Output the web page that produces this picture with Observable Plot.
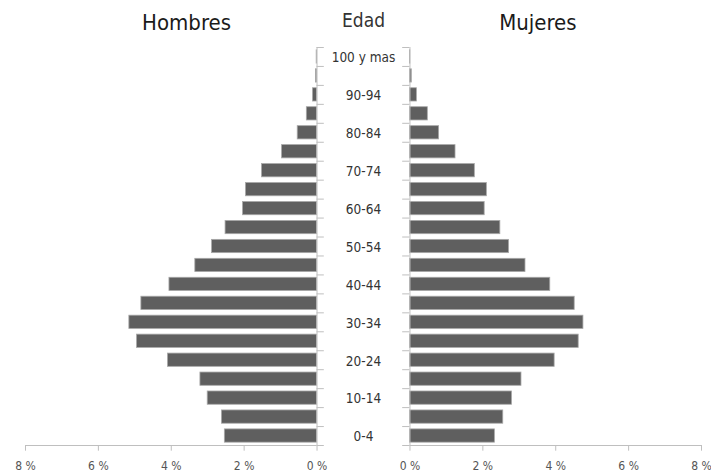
<!DOCTYPE html>
<html>
<head>
<meta charset="utf-8">
<script src="https://cdn.jsdelivr.net/npm/d3@7"></script>
<script src="https://cdn.jsdelivr.net/npm/@observablehq/plot@0.6"></script>
<style>
  html, body { margin: 0; padding: 0; background: #fff; }
  #chart { width: 711px; height: 475px; }
</style>
</head>
<body>
<div id="chart"></div>
<script>
// Age groups (bottom to top)
const ages = ["0-4","5-9","10-14","15-19","20-24","25-29","30-34","35-39","40-44","45-49",
              "50-54","55-59","60-64","65-69","70-74","75-79","80-84","85-89","90-94","95-99","100 y mas"];
// Percentage of population
const hombres = [2.53, 2.61, 3.00, 3.20, 4.09, 4.94, 5.15, 4.82, 4.05, 3.34,
                 2.88, 2.51, 2.03, 1.95, 1.51, 0.96, 0.53, 0.28, 0.11, 0.03, 0.01];
const mujeres = [2.33, 2.56, 2.80, 3.06, 3.97, 4.63, 4.76, 4.52, 3.85, 3.17,
                 2.72, 2.48, 2.05, 2.11, 1.78, 1.25, 0.80, 0.49, 0.19, 0.05, 0.01];
const xTicks = [0, 2, 4, 6, 8];
const titles = ["Hombres", "Edad", "Mujeres"];

const rows = ages.map((age, i) => ({age, i, h: hombres[i], m: mujeres[i]}));
const G = 1.275;          // half-gap between the two halves, in % units
const maxX = d3.max(xTicks);
const bounds = d3.range(ages.length + 1).map(i => i - 0.5);
const font = "'DejaVu Sans Condensed', 'DejaVu Sans', sans-serif";
const axisColor = "#bfbfbf";
const barColor = "#5f5f5f";

const chart = Plot.plot({
  width: 711,
  height: 475,
  marginTop: 47,
  marginBottom: 30,
  marginLeft: 25,
  marginRight: 10,
  x: {domain: [-(maxX + G), maxX + G], axis: null},
  y: {domain: [-0.5, ages.length - 0.5], axis: null},
  style: {fontFamily: font, background: "#fff", overflow: "visible"},
  marks: [
    // bars
    Plot.rect(rows, {x1: () => -G, x2: d => -(G + d.h), y1: d => d.i - 0.35, y2: d => d.i + 0.35,
                     fill: barColor, stroke: "#a8a8a8", strokeWidth: 0.8}),
    Plot.rect(rows, {x1: () => G, x2: d => G + d.m, y1: d => d.i - 0.35, y2: d => d.i + 0.35,
                     fill: barColor, stroke: "#a8a8a8", strokeWidth: 0.8}),
    // vertical axes
    Plot.ruleX([-G, G], {x: d => d, stroke: axisColor}),
    Plot.ruleY(bounds, {y: d => d, x1: () => -G, x2: () => -G + 0.2, stroke: axisColor}),
    Plot.ruleY(bounds, {y: d => d, x1: () => G - 0.2, x2: () => G, stroke: axisColor}),
    // bottom axes
    Plot.ruleY([-0.5], {y: d => d, x1: () => -(G + maxX), x2: () => -G, stroke: axisColor}),
    Plot.ruleY([-0.5], {y: d => d, x1: () => G, x2: () => G + maxX, stroke: axisColor}),
    Plot.ruleX(xTicks, {x: d => -(G + d), y1: () => -0.5, y2: () => -0.8, stroke: axisColor}),
    Plot.ruleX(xTicks, {x: d => G + d, y1: () => -0.5, y2: () => -0.8, stroke: axisColor}),
    Plot.text(xTicks, {x: d => -(G + d), y: () => -0.5, dy: 21, text: d => `${d} %`,
                       fontSize: 12, fill: "#555"}),
    Plot.text(xTicks, {x: d => G + d, y: () => -0.5, dy: 21, text: d => `${d} %`,
                       fontSize: 12, fill: "#555"}),
    // age labels
    Plot.text(rows.filter(d => d.i % 2 === 0), {x: () => 0, y: "i", text: "age",
                       fontSize: 13.5, fill: "#333", dy: 1}),
    // titles
    Plot.text([titles[0]], {x: () => -(G + 3.58), y: () => ages.length + 0.82, text: d => d,
                       fontSize: 22, fill: "#1a1a1a"}),
    Plot.text([titles[1]], {x: () => 0, y: () => ages.length + 0.9, text: d => d,
                       fontSize: 19, fill: "#333"}),
    Plot.text([titles[2]], {x: () => G + 3.51, y: () => ages.length + 0.82, text: d => d,
                       fontSize: 22, fill: "#1a1a1a"})
  ]
});
document.getElementById("chart").append(chart);
</script>
</body>
</html>
